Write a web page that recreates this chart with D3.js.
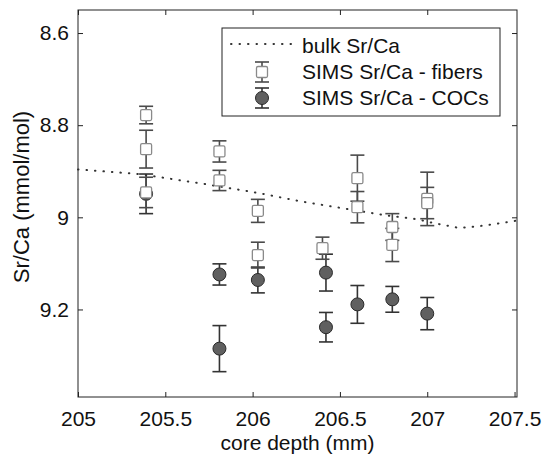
<!DOCTYPE html>
<html>
<head>
<meta charset="utf-8">
<script src="https://cdn.jsdelivr.net/npm/d3@7"></script>
<style>
  body { margin: 0; background: #fff; }
  svg { font-family: "Liberation Sans", Arial, sans-serif; }
</style>
</head>
<body>
<div id="chart"></div>
<script>
// Sr/Ca vs core depth - bulk line + SIMS spots with error bars

const xTicks = [205, 205.5, 206, 206.5, 207, 207.5];
const yTicks = [8.6, 8.8, 9, 9.2];

// bulk Sr/Ca (dotted)
const bulkDepth = [205.0, 205.35, 205.73, 206.03, 206.27, 206.56, 206.75, 206.94, 207.03, 207.18, 207.28, 207.38, 207.514];
const bulkSr    = [8.896, 8.906, 8.928, 8.947, 8.965, 8.983, 8.995, 9.004, 9.012, 9.023, 9.020, 9.015, 9.007];

// SIMS Sr/Ca - fibers
const fibDepth = [205.39, 205.39, 205.39, 205.81, 205.81, 206.03, 206.03, 206.4, 206.6, 206.6, 206.8, 206.8, 207.0, 207.0];
const fibSr    = [8.778, 8.852, 8.946, 8.857, 8.920, 8.986, 9.082, 9.067, 8.915, 8.978, 9.021, 9.060, 8.960, 8.969];
const fibErr   = [0.019, 0.041, 0.033, 0.023, 0.022, 0.025, 0.028, 0.024, 0.050, 0.034, 0.029, 0.036, 0.058, 0.034];

// SIMS Sr/Ca - COCs
const cocDepth = [205.39, 205.81, 205.81, 206.03, 206.42, 206.42, 206.6, 206.8, 207.0];
const cocSr    = [8.949, 9.124, 9.285, 9.136, 9.120, 9.2385, 9.189, 9.178, 9.209];
const cocErr   = [0.043, 0.023, 0.050, 0.028, 0.040, 0.032, 0.041, 0.028, 0.035];

const legendLabels = ['bulk Sr/Ca', 'SIMS Sr/Ca - fibers', 'SIMS Sr/Ca - COCs'];

const W = 542, H = 456;
const L = 78, R = 517, T = 10, B = 397;

const svg = d3.select('#chart').append('svg')
  .attr('width', W)
  .attr('height', H);

const x = d3.scaleLinear().domain([205, 207.514]).range([L, R]);
const y = d3.scaleLinear().domain([8.55, 9.39]).range([T, B]);   // reversed: small values on top

const axisColor = '#222';

// axes (ticks inward)
const gx = svg.append('g')
  .attr('transform', `translate(0,${B})`)
  .call(d3.axisBottom(x).tickValues(xTicks).tickSize(-5).tickPadding(14).tickFormat(d3.format('~g')));
const gxTop = svg.append('g')
  .attr('transform', `translate(0,${T})`)
  .call(d3.axisTop(x).tickValues(xTicks.slice(0, -1)).tickSize(-5).tickFormat(''));
const gy = svg.append('g')
  .attr('transform', `translate(${L},0)`)
  .call(d3.axisLeft(y).tickValues(yTicks).tickSize(-5).tickPadding(9).tickFormat(d3.format('~g')));
const gyRight = svg.append('g')
  .attr('transform', `translate(${R},0)`)
  .call(d3.axisRight(y).tickValues(yTicks).tickSize(-5).tickFormat(''));

[gx, gxTop, gy, gyRight].forEach(g => {
  g.select('.domain').remove();
  g.selectAll('line').attr('stroke', axisColor);
  g.selectAll('text').attr('fill', '#111').attr('font-size', 21).attr('font-family', '"Liberation Sans", Arial, sans-serif');
});

svg.append('rect')
  .attr('x', L).attr('y', T)
  .attr('width', R - L).attr('height', B - T)
  .attr('fill', 'none')
  .attr('stroke', axisColor)
  .attr('stroke-width', 1);

// axis labels
svg.append('text')
  .attr('x', (L + R) / 2).attr('y', 450)
  .attr('text-anchor', 'middle')
  .attr('font-size', 21)
  .attr('fill', '#111')
  .text('core depth (mm)');

svg.append('text')
  .attr('transform', `translate(29,197) rotate(-90)`)
  .attr('text-anchor', 'middle')
  .attr('font-size', 22)
  .attr('fill', '#111')
  .text('Sr/Ca (mmol/mol)');

const plot = svg.append('g');

// bulk dotted line
const bulk = bulkDepth.map((d, i) => ({ x: d, y: bulkSr[i] }));
plot.append('path')
  .datum(bulk)
  .attr('fill', 'none')
  .attr('stroke', '#333')
  .attr('stroke-width', 2)
  .attr('stroke-linecap', 'round')
  .attr('stroke-dasharray', '0.5,8')
  .attr('d', d3.line().x(d => x(d.x)).y(d => y(d.y)));

const cap = 7;

function errorBars(g, data, color) {
  const eb = g.append('g').selectAll('g')
    .data(data).join('g')
    .attr('stroke', color)
    .attr('stroke-width', 1.6);
  eb.append('line')
    .attr('x1', d => x(d.x)).attr('x2', d => x(d.x))
    .attr('y1', d => y(d.y - d.e)).attr('y2', d => y(d.y + d.e));
  eb.append('line')
    .attr('x1', d => x(d.x) - cap).attr('x2', d => x(d.x) + cap)
    .attr('y1', d => y(d.y - d.e)).attr('y2', d => y(d.y - d.e));
  eb.append('line')
    .attr('x1', d => x(d.x) - cap).attr('x2', d => x(d.x) + cap)
    .attr('y1', d => y(d.y + d.e)).attr('y2', d => y(d.y + d.e));
}

// COCs
const cocs = cocDepth.map((d, i) => ({ x: d, y: cocSr[i], e: cocErr[i] }));
errorBars(plot, cocs, '#333');
plot.append('g').selectAll('circle')
  .data(cocs).join('circle')
  .attr('cx', d => x(d.x)).attr('cy', d => y(d.y))
  .attr('r', 6.5)
  .attr('fill', '#606060')
  .attr('stroke', '#2a2a2a')
  .attr('stroke-width', 1);

// fibers
const fibs = fibDepth.map((d, i) => ({ x: d, y: fibSr[i], e: fibErr[i] }));
errorBars(plot, fibs, '#4a4a4a');
const sq = 11;
plot.append('g').selectAll('rect')
  .data(fibs).join('rect')
  .attr('x', d => x(d.x) - sq / 2).attr('y', d => y(d.y) - sq / 2)
  .attr('width', sq).attr('height', sq)
  .attr('rx', 1.5)
  .attr('fill', '#fff')
  .attr('stroke', '#8a8a8a')
  .attr('stroke-width', 1.3);

// legend
const lg = svg.append('g');
lg.append('rect')
  .attr('x', 222).attr('y', 28)
  .attr('width', 278).attr('height', 88)
  .attr('fill', '#fff')
  .attr('stroke', axisColor)
  .attr('stroke-width', 1);

lg.append('line')
  .attr('x1', 231).attr('x2', 297)
  .attr('y1', 44).attr('y2', 44)
  .attr('stroke', '#333')
  .attr('stroke-width', 2)
  .attr('stroke-linecap', 'round')
  .attr('stroke-dasharray', '0.5,8');

const lx = 262;
[[72, 10, '#4a4a4a'], [98, 10, '#333']].forEach(([cy, h, c]) => {
  const g = lg.append('g').attr('stroke', c).attr('stroke-width', 1.6);
  g.append('line').attr('x1', lx).attr('x2', lx).attr('y1', cy - h).attr('y2', cy + h);
  g.append('line').attr('x1', lx - cap).attr('x2', lx + cap).attr('y1', cy - h).attr('y2', cy - h);
  g.append('line').attr('x1', lx - cap).attr('x2', lx + cap).attr('y1', cy + h).attr('y2', cy + h);
});
lg.append('rect')
  .attr('x', lx - sq / 2).attr('y', 72 - sq / 2)
  .attr('width', sq).attr('height', sq)
  .attr('rx', 1.5)
  .attr('fill', '#fff')
  .attr('stroke', '#8a8a8a')
  .attr('stroke-width', 1.3);
lg.append('circle')
  .attr('cx', lx).attr('cy', 98)
  .attr('r', 6.5)
  .attr('fill', '#606060')
  .attr('stroke', '#2a2a2a');

lg.selectAll('text.lab')
  .data(legendLabels).join('text')
  .attr('class', 'lab')
  .attr('x', 302)
  .attr('y', (d, i) => [53, 79, 105][i])
  .attr('font-size', 21)
  .attr('fill', '#111')
  .text(d => d);
</script>
</body>
</html>
